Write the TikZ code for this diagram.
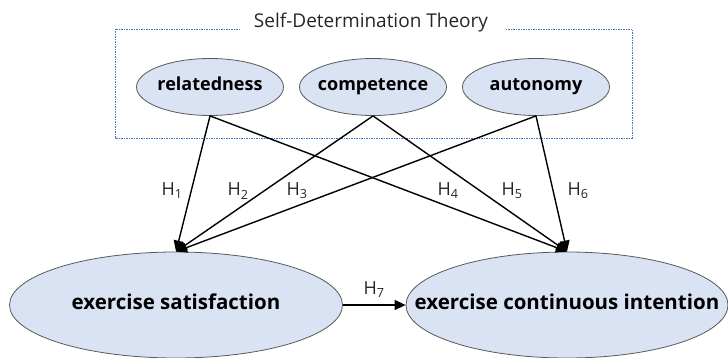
\documentclass[tikz,border=0pt]{standalone}
\usepackage{fontspec}
\setmainfont{Open Sans}
\usepackage{xcolor}
\definecolor{SDTfill}{HTML}{DAE3F3}
\definecolor{SDTedge}{HTML}{595959}
\definecolor{SDTframe}{HTML}{4472C4}
\usetikzlibrary{arrows.meta, shapes.geometric}
\newcommand{\ovaltext}[1]{\makebox[0pt]{\strut #1}}

\begin{document}
\begin{tikzpicture}[x=1pt, y=-1pt,
  need/.style={ellipse, draw=SDTedge, fill=SDTfill, line width=0.8pt,
    minimum width=147pt, minimum height=57pt, inner sep=0pt,
    font=\bfseries\fontsize{18}{20}\selectfont},
  outcome/.style={ellipse, draw=SDTedge, fill=SDTfill, line width=0.8pt,
    minimum width=333pt, minimum height=106pt, inner sep=0pt,
    font=\bfseries\fontsize{20.5}{24}\selectfont},
  hyp/.style={-{Triangle[length=11pt, width=10pt]}, line width=1.4pt},
  hlabel/.style={font=\fontsize{18}{20}\selectfont, text=black!85, inner sep=0pt}]
\useasboundingbox (0,0) rectangle (728,358);

% Theory frame with its title
\node[font=\fontsize{19}{21}\selectfont, text=black!85, inner sep=0pt] (sdt) at (371,23) {Self-Determination Theory};
\draw[SDTframe, line width=0.7pt, dash pattern=on 1.5pt off 1pt]
  (240,29) -- (115,29) -- (115,138) -- (632,138) -- (632,29) -- (505,29);

% Basic needs
\node[need] (rel) at (210,87) {\ovaltext{relatedness}};
\node[need] (com) at (373,87) {\ovaltext{competence}};
\node[need] (aut) at (536,87) {\ovaltext{autonomy}};

% Outcomes
\node[outcome] (sat) at (176,305) {\ovaltext{exercise satisfaction}};
\node[outcome, minimum width=322pt] (int) at (567,305) {\ovaltext{exercise continuous intention}};

% Hypothesised paths
\draw[hyp] (rel.south) -- (sat.north);
\draw[hyp] (com.south) -- (sat.north);
\draw[hyp] (aut.south) -- (sat.north);
\draw[hyp] (rel.south) -- (int.north);
\draw[hyp] (com.south) -- (int.north);
\draw[hyp] (aut.south) -- (int.north);
\draw[hyp, line width=1.2pt] (sat.east) -- (int.west);

% Path labels
\node[hlabel] (h1) at (172,191) {H\textsubscript{1}};
\node[hlabel] (h2) at (238,191) {H\textsubscript{2}};
\node[hlabel] (h3) at (297,191) {H\textsubscript{3}};
\node[hlabel] (h4) at (448,191) {H\textsubscript{4}};
\node[hlabel] (h5) at (512,191) {H\textsubscript{5}};
\node[hlabel] (h6) at (578,191) {H\textsubscript{6}};
\node[hlabel] (h7) at (374,290) {H\textsubscript{7}};
\end{tikzpicture}
\end{document}
